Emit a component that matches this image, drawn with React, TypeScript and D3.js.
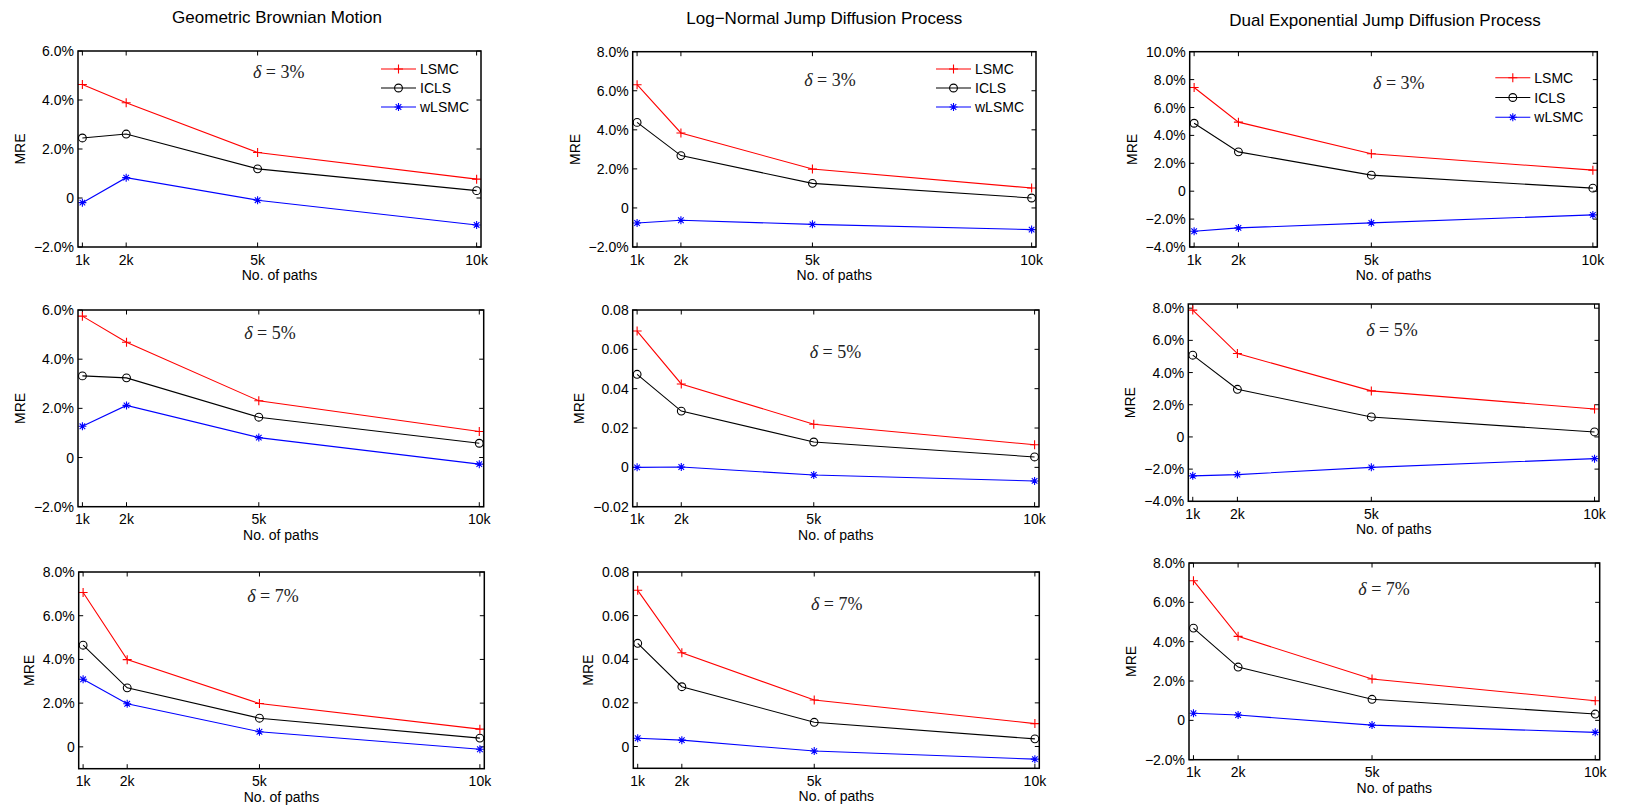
import * as d3 from 'd3';
import React from 'react';

// x categories (number of simulated paths)
const pathCounts = [1000, 2000, 5000, 10000];
const xTickLabels = ['1k', '2k', '5k', '10k'];
const methodNames = ['LSMC', 'ICLS', 'wLSMC'];
const methodColors = ['#ff0000', '#000000', '#0000ff'];
const processTitles = [
  'Geometric Brownian Motion',
  'Log\u2212Normal Jump Diffusion Process',
  'Dual Exponential Jump Diffusion Process',
];
const deltaLabels = ['3%', '5%', '7%'];

// MRE values, rows: LSMC, ICLS, wLSMC
const gbmDelta3 = [
  [0.0463, 0.0389, 0.0186, 0.0077],
  [0.0245, 0.0261, 0.0119, 0.003],
  [-0.0019, 0.0083, -0.0009, -0.011],
];
const lnDelta3 = [
  [0.0631, 0.0384, 0.0199, 0.0102],
  [0.0438, 0.0268, 0.0126, 0.0051],
  [-0.0077, -0.0063, -0.0084, -0.0111],
];
const deDelta3 = [
  [0.0743, 0.0495, 0.0268, 0.0151],
  [0.0487, 0.0282, 0.0115, 0.0022],
  [-0.0287, -0.0263, -0.0227, -0.017],
];
const gbmDelta5 = [
  [0.0575, 0.0469, 0.0231, 0.0106],
  [0.0332, 0.0324, 0.0164, 0.0058],
  [0.0127, 0.0212, 0.0081, -0.0027],
];
const lnDelta5 = [
  [0.0693, 0.0424, 0.0219, 0.0115],
  [0.0473, 0.0286, 0.0129, 0.0053],
  [0.0, 0.0002, -0.0039, -0.0069],
];
const deDelta5 = [
  [0.0788, 0.0518, 0.0286, 0.0174],
  [0.0508, 0.0296, 0.0124, 0.0031],
  [-0.0242, -0.0234, -0.0189, -0.0135],
];
const gbmDelta7 = [
  [0.0706, 0.0399, 0.0198, 0.0081],
  [0.0465, 0.027, 0.0131, 0.004],
  [0.0309, 0.0197, 0.0069, -0.0011],
];
const lnDelta7 = [
  [0.0716, 0.043, 0.0213, 0.0105],
  [0.0473, 0.0274, 0.0111, 0.0035],
  [0.0038, 0.0029, -0.0021, -0.0058],
];
const deDelta7 = [
  [0.071, 0.0427, 0.021, 0.01],
  [0.0469, 0.0271, 0.0107, 0.0032],
  [0.0036, 0.0027, -0.0024, -0.0061],
];

// y tick values
const ticksM2to6 = [-0.02, 0, 0.02, 0.04, 0.06];
const ticksM2to8 = [-0.02, 0, 0.02, 0.04, 0.06, 0.08];
const ticksM4to10 = [-0.04, -0.02, 0, 0.02, 0.04, 0.06, 0.08, 0.1];
const ticksM4to8 = [-0.04, -0.02, 0, 0.02, 0.04, 0.06, 0.08];
const ticks0to8 = [0, 0.02, 0.04, 0.06, 0.08];

const W = 1643;
const H = 811;
const sans = '"Liberation Sans", Arial, Helvetica, sans-serif';
const serif = '"Liberation Serif", "DejaVu Serif", serif';

// layout: axes box [left, top, right, bottom], delta text pos (fractions of box)
const panels = [
  { values: gbmDelta3, col: 0, row: 0, box: [78, 51, 481, 247], yDomain: [-0.02, 0.06], yTicks: ticksM2to6, pct: true, dpos: [0.498, 0.106] },
  { values: lnDelta3, col: 1, row: 0, box: [632.7, 51.7, 1036, 247], yDomain: [-0.02, 0.08], yTicks: ticksM2to8, pct: true, dpos: [0.489, 0.145] },
  { values: deDelta3, col: 2, row: 0, box: [1189.7, 51.7, 1597.3, 247], yDomain: [-0.04, 0.1], yTicks: ticksM4to10, pct: true, dpos: [0.513, 0.159] },
  { values: gbmDelta5, col: 0, row: 1, box: [78, 310, 483.7, 506.7], yDomain: [-0.02, 0.06], yTicks: ticksM2to6, pct: true, dpos: [0.473, 0.115] },
  { values: lnDelta5, col: 1, row: 1, box: [632.7, 310, 1039, 506.7], yDomain: [-0.02, 0.08], yTicks: ticksM2to8, pct: false, dpos: [0.499, 0.212] },
  { values: deDelta5, col: 2, row: 1, box: [1188.3, 304, 1599, 501.3], yDomain: [-0.04, 0.0826], yTicks: ticksM4to8, pct: true, dpos: [0.496, 0.132] },
  { values: gbmDelta7, col: 0, row: 2, box: [78.7, 572, 484.3, 768.7], yDomain: [-0.01, 0.08], yTicks: ticks0to8, pct: true, dpos: [0.479, 0.122] },
  { values: lnDelta7, col: 1, row: 2, box: [633.3, 572, 1039.3, 768.3], yDomain: [-0.01, 0.08], yTicks: ticks0to8, pct: false, dpos: [0.501, 0.163] },
  { values: deDelta7, col: 2, row: 2, box: [1189, 563, 1599.7, 759.7], yDomain: [-0.02, 0.08], yTicks: ticksM2to8, pct: true, dpos: [0.475, 0.129] },
];

const titleShift = [-2.5, -10, -8.5];
const titleBaseline = [22.5, 23.5, 25.5];
// legend: [line start from right, text start from right, first row from top, row step]
const legendLayout = [
  [100, 61, 18, 19],
  [100, 61, 17.3, 19],
  [102, 63, 26, 19.8],
];

const charW: Record<string, number> = { '.': 0.278, '%': 0.889, '\u2212': 0.584 };
const textWidth = (s: string, size: number) =>
  s.split('').reduce((acc, c) => acc + (charW[c] ?? 0.556), 0) * size;

const fmtTick = (v: number, pct: boolean) => {
  if (Math.abs(v) < 1e-9) return '0';
  const s = pct ? (v * 100).toFixed(1) + '%' : v.toFixed(2);
  return s.replace('-', '\u2212');
};

function Marker({ kind, x, y, color }: { kind: number; x: number; y: number; color: string }) {
  if (kind === 0) {
    return (
      <path d={`M${x - 4.5},${y}H${x + 4.5}M${x},${y - 4.5}V${y + 4.5}`} stroke={color} strokeWidth={1.1} fill="none" />
    );
  }
  if (kind === 1) {
    return <circle cx={x} cy={y} r={3.9} stroke={color} strokeWidth={1.1} fill="none" />;
  }
  const a = 4;
  const b = 2.8;
  return (
    <path
      d={`M${x - a},${y}H${x + a}M${x},${y - a}V${y + a}M${x - b},${y - b}L${x + b},${y + b}M${x - b},${y + b}L${x + b},${y - b}`}
      stroke={color}
      strokeWidth={1.1}
      fill="none"
    />
  );
}

function Panel({ p }: { p: (typeof panels)[number] }) {
  const [l, t, r, b] = p.box;
  const x = d3.scaleLinear().domain([900, 10100]).range([l, r]);
  const y = d3.scaleLinear().domain(p.yDomain).range([b, t]);
  const line = d3
    .line<number>()
    .x((_, i) => x(pathCounts[i]))
    .y((d) => y(d));
  const tickLen = 4.5;
  const labels = p.yTicks.map((v) => fmtTick(v, p.pct));
  const maxW = d3.max(labels, (s) => textWidth(s, 14)) ?? 30;
  const ylabelX = l - 4 - maxW - 14;
  const cx = (l + r) / 2;

  return (
    <g>
      {p.row === 0 && (
        <text
          x={cx + titleShift[p.col]}
          y={titleBaseline[p.col]}
          textAnchor="middle"
          fontFamily={sans}
          fontSize={17}
        >
          {processTitles[p.col]}
        </text>
      )}
      {/* ticks */}
      {p.yTicks.map((v) => (
        <g key={'y' + v}>
          <line x1={l} x2={l + tickLen} y1={y(v)} y2={y(v)} stroke="#000" strokeWidth={1} />
          <line x1={r} x2={r - tickLen} y1={y(v)} y2={y(v)} stroke="#000" strokeWidth={1} />
          <text x={l - 4} y={y(v)} dy="0.36em" textAnchor="end" fontFamily={sans} fontSize={14}>
            {fmtTick(v, p.pct)}
          </text>
        </g>
      ))}
      {pathCounts.map((v, i) => (
        <g key={'x' + v}>
          <line x1={x(v)} x2={x(v)} y1={b} y2={b - tickLen} stroke="#000" strokeWidth={1} />
          <line x1={x(v)} x2={x(v)} y1={t} y2={t + tickLen} stroke="#000" strokeWidth={1} />
          <text x={x(v)} y={b + 17.5} textAnchor="middle" fontFamily={sans} fontSize={14}>
            {xTickLabels[i]}
          </text>
        </g>
      ))}
      <text x={cx} y={b + 33} textAnchor="middle" fontFamily={sans} fontSize={14}>
        No. of paths
      </text>
      <text
        transform={`translate(${ylabelX},${(t + b) / 2}) rotate(-90)`}
        textAnchor="middle"
        dy="0.36em"
        fontFamily={sans}
        fontSize={14}
      >
        MRE
      </text>
      {/* series */}
      {p.values.map((series, si) => (
        <g key={methodNames[si]}>
          <path d={line(series) ?? ''} fill="none" stroke={methodColors[si]} strokeWidth={1.1} />
          {series.map((v, i) => (
            <Marker key={i} kind={si} x={x(pathCounts[i])} y={y(v)} color={methodColors[si]} />
          ))}
        </g>
      ))}
      <text
        x={l + p.dpos[0] * (r - l)}
        y={t + p.dpos[1] * (b - t)}
        dy="0.35em"
        textAnchor="middle"
        fontFamily={serif}
        fontSize={18}
        fill="#222"
      >
        <tspan fontStyle="italic">{'\u03b4'}</tspan>
        {' = ' + deltaLabels[p.row]}
      </text>
      {/* box */}
      <rect x={l} y={t} width={r - l} height={b - t} fill="none" stroke="#000" strokeWidth={1.5} />
      {p.row === 0 &&
        methodNames.map((name, si) => {
          const [ls, ts, r0, step] = legendLayout[p.col];
          const ly = t + r0 + si * step;
          const x1 = r - ls;
          const x2 = r - ls + 35;
          return (
            <g key={name}>
              <line x1={x1} x2={x2} y1={ly} y2={ly} stroke={methodColors[si]} strokeWidth={1.1} />
              <Marker kind={si} x={(x1 + x2) / 2} y={ly} color={methodColors[si]} />
              <text x={r - ts} y={ly} dy="0.36em" fontFamily={sans} fontSize={14}>
                {name}
              </text>
            </g>
          );
        })}
    </g>
  );
}

export default function App() {
  return (
    <svg
      width={W}
      height={H}
      style={{ position: 'absolute', left: 0, top: 0, background: '#fff' }}
    >
      <rect width={W} height={H} fill="#fff" />
      {panels.map((p, i) => (
        <Panel key={i} p={p} />
      ))}
    </svg>
  );
}
